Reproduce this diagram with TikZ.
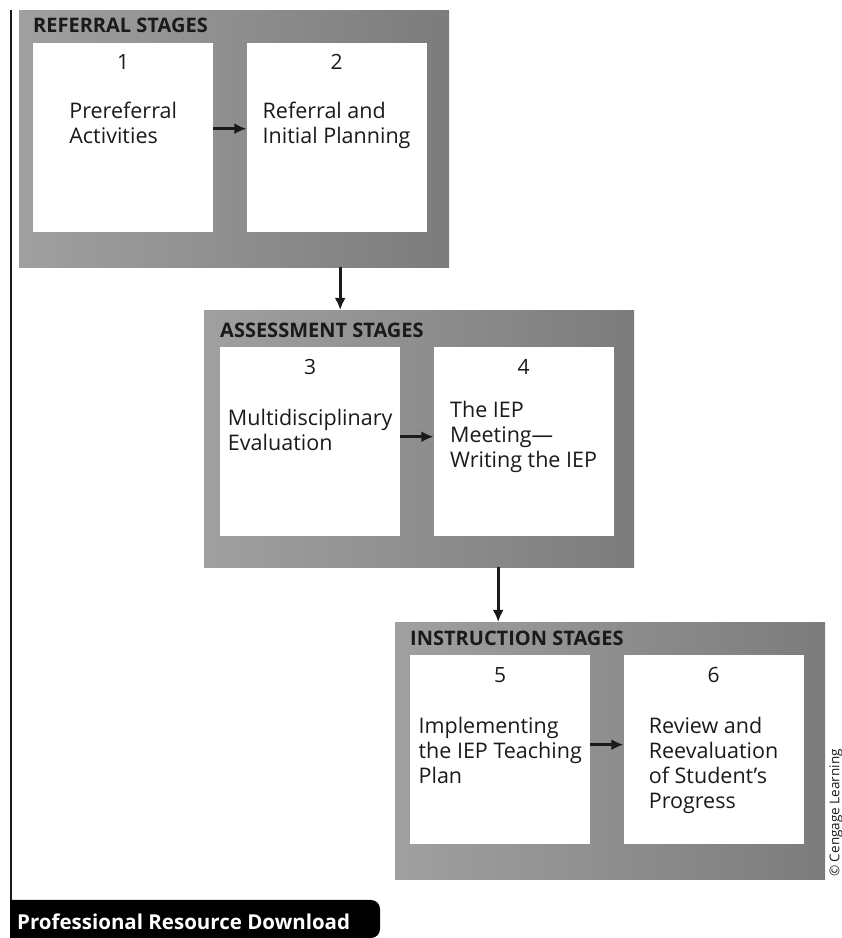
\documentclass[tikz,border=0pt]{standalone}
\usepackage{fontspec}
\setmainfont{Open Sans}
\usepackage{tikz}
\usetikzlibrary{arrows.meta, positioning, calc}
\definecolor{panelgray}{HTML}{A0A0A0}
\definecolor{paneldark}{HTML}{7C7C7C}
\definecolor{inkblack}{HTML}{1A1A1A}
\tikzset{
  panel/.style={
    rectangle, anchor=north west,
    minimum width=430pt, minimum height=257pt,
    left color=panelgray, right color=paneldark,
    inner sep=0pt,
  },
  stagebox/.style={
    rectangle,
    minimum width=180pt, minimum height=189pt,
    fill=white, inner sep=0pt,
  },
  heading/.style={font=\fontsize{20}{22}\selectfont\bfseries, text=inkblack, inner sep=0pt, anchor=base west},
  num/.style={font=\fontsize{21}{24}\selectfont, text=inkblack, inner sep=0pt, anchor=base},
  desc/.style={font=\fontsize{21.5}{25}\selectfont, text=inkblack, align=left, inner sep=0pt, anchor=north},
  arrow/.style={-{Latex[length=12pt, width=11pt]}, line width=2.6pt, color=inkblack},
  rule/.style={line width=1.8pt, color=inkblack},
}
\begin{document}
\begin{tikzpicture}[x=1pt, y=1pt]

  \useasboundingbox (0,0) rectangle (842,938);

  % referral stages
  \node[panel] (p1) at (19,928) {};
  \node[stagebox, anchor=north west] (s1) at ([shift={(14,-33)}]p1.north west) {};
  \node[stagebox, right=33pt of s1] (s2) {};
  \node[heading] (h1) at ([yshift=10pt]s1.north west) {REFERRAL STAGES};
  \node[num] (n1) at ([yshift=-27pt]s1.north) {1};
  \node[num] (n2) at ([yshift=-27pt]s2.north) {2};
  \node[desc] (t1) at ([yshift=-59pt]s1.north) {Prereferral\\Activities};
  \node[desc] (t2) at ([yshift=-59pt]s2.north) {Referral and\\Initial Planning};

  % assessment stages
  \node[panel] (p2) at (204,628) {};
  \node[stagebox, anchor=north west] (s3) at ([shift={(16,-37)}]p2.north west) {};
  \node[stagebox, right=33pt of s3] (s4) {};
  \node[heading] (h2) at ([yshift=9pt]s3.north west) {ASSESSMENT STAGES};
  \node[num] (n3) at ([yshift=-28pt]s3.north) {3};
  \node[num] (n4) at ([yshift=-28pt]s4.north) {4};
  \node[desc] (t3) at ([yshift=-62pt]s3.north) {Multidisciplinary\\Evaluation};
  \node[desc] (t4) at ([yshift=-54pt]s4.north) {The IEP\\Meeting---\\Writing the IEP};

  % instruction stages
  \node[panel] (p3) at (395,316) {};
  \node[stagebox, anchor=north west] (s5) at ([shift={(15,-33)}]p3.north west) {};
  \node[stagebox, right=33pt of s5] (s6) {};
  \node[heading] (h3) at ([yshift=9pt]s5.north west) {INSTRUCTION STAGES};
  \node[num] (n5) at ([yshift=-28pt]s5.north) {5};
  \node[num] (n6) at ([yshift=-28pt]s6.north) {6};
  \node[desc] (t5) at ([yshift=-62pt]s5.north) {Implementing\\the IEP Teaching\\Plan};
  \node[desc] (t6) at ([yshift=-62pt]s6.north) {Review and\\Reevaluation\\of Student's\\Progress};

  \draw[arrow] ([yshift=9pt]s1.east) -- ([yshift=9pt]s2.west);
  \draw[arrow] ([yshift=5pt]s3.east) -- ([yshift=5pt]s4.west);
  \draw[arrow] ([yshift=5pt]s5.east) -- ([yshift=5pt]s6.west);
  \draw[arrow] ([xshift=106pt]p1.south) -- ([xshift=106pt]p1.south |- p2.north);
  \draw[arrow] ([xshift=79pt]p2.south) -- ([xshift=79pt]p2.south |- p3.north);

  % page furniture
  \draw[rule] (11,928) -- (11,38);
  \fill[black] (10,0) -- (10,38) [rounded corners=9pt] -- (380,38) -- (380,0) [sharp corners] -- cycle;
  \node[font=\fontsize{20.5}{24}\selectfont\bfseries, text=white, inner sep=0pt, anchor=base west] (tab) at (17,9) {Professional Resource Download};
  \node[font=\fontsize{13.5}{15}\selectfont, text=inkblack, rotate=90, inner sep=0pt] (copy) at (836,125) {\textcopyright\ Cengage Learning};

\end{tikzpicture}
\end{document}
